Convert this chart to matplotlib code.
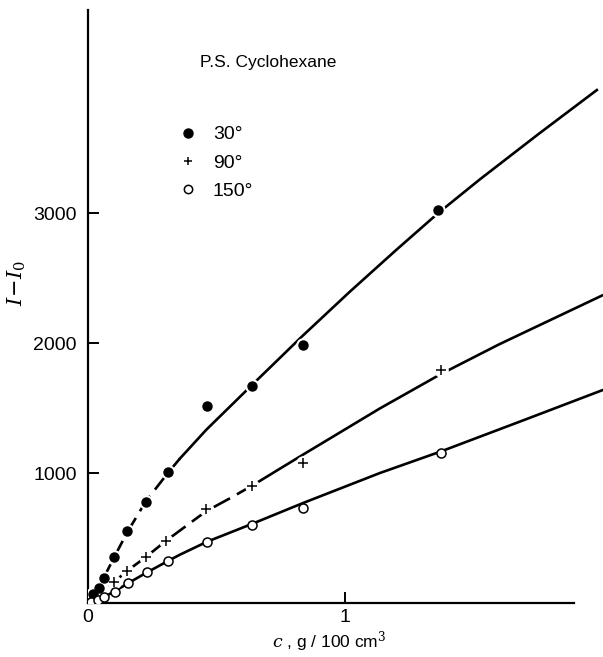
import matplotlib.pyplot as plt
from matplotlib.lines import Line2D

plt.rcParams['font.family'] = ['Liberation Sans', 'DejaVu Sans']
plt.rcParams['mathtext.fontset'] = 'dejavuserif'

# measured points (c in g/100cm3, I - I0)
c30 = [0.018, 0.042, 0.061, 0.101, 0.153, 0.226, 0.312, 0.462, 0.637, 0.835, 1.363]
i30 = [67, 118, 195, 351, 554, 779, 1005, 1518, 1669, 1982, 3023]
c90 = [0.102, 0.153, 0.226, 0.305, 0.458, 0.638, 0.835, 1.372]
i90 = [160, 250, 352, 478, 720, 898, 1074, 1792]
c150 = [0.01, 0.040, 0.061, 0.104, 0.154, 0.229, 0.313, 0.462, 0.640, 0.838, 1.372]
i150 = [10, 22, 47, 87, 151, 235, 324, 472, 600, 733, 1156]

# fitted curves as drawn in the figure
fit30_c = [0, 0.05, 0.1, 0.153, 0.226, 0.312, 0.358, 0.46, 0.637, 0.835, 1.019, 1.2, 1.363, 1.525, 1.75, 1.98]
fit30_i = [0, 150, 345, 545, 785, 1003, 1112, 1332, 1675, 2055, 2395, 2717, 3000, 3259, 3603, 3946]
fit90_c = [0, 0.05, 0.102, 0.153, 0.226, 0.304, 0.38, 0.459, 0.55, 0.639, 0.73, 0.834, 1.136, 1.372, 1.6, 2.0]
fit90_i = [0, 80, 163, 248, 355, 479, 590, 705, 803, 903, 1013, 1138, 1497, 1760, 1990, 2365]
fit150_c = [0, 0.042, 0.104, 0.154, 0.229, 0.313, 0.358, 0.464, 0.64, 0.838, 1.136, 1.372, 1.7, 2.0]
fit150_i = [0, 25, 90, 150, 235, 325, 372, 472, 610, 770, 1000, 1165, 1410, 1636]

dash_end30 = 6   # index where the 30 deg curve turns solid
dash_end90 = 9

fig = plt.figure(figsize=(6.03, 6.57), dpi=100)
ax = fig.add_axes([88 / 603, 54 / 657, 515 / 603, 593 / 657])

lw = 1.9
dash = (0, (7, 3))
ax.plot(fit30_c[:dash_end30 + 1], fit30_i[:dash_end30 + 1], color='black', lw=lw, ls=dash)
ax.plot(fit30_c[dash_end30:], fit30_i[dash_end30:], color='black', lw=lw)
ax.plot(fit90_c[:dash_end90 + 1], fit90_i[:dash_end90 + 1], color='black', lw=lw, ls=dash)
ax.plot(fit90_c[dash_end90:], fit90_i[dash_end90:], color='black', lw=lw)
ax.plot(fit150_c, fit150_i, color='black', lw=lw)

# white halo so the lines break around the points
for cc, ii in [(c30, i30), (c90, i90)]:
    ax.plot(cc, ii, 'o', color='white', ms=9.5, zorder=3)

ax.plot(c30, i30, 'o', color='black', ms=6.5, zorder=4)
ax.plot(c90, i90, '+', color='black', ms=7, mew=1.1, zorder=4)
ax.plot(c150, i150, 'o', mfc='white', mec='black', ms=6.5, mew=1.1, zorder=4)

ax.set_xlim(0, 515 / 257)
ax.set_ylim(0, 593 / 130 * 1000)

for s in ['top', 'right']:
    ax.spines[s].set_visible(False)
ax.spines['left'].set_linewidth(1.6)
ax.spines['bottom'].set_linewidth(1.6)
ax.spines['bottom'].set_bounds(0, 1.89)

ax.set_xticks([0, 1])
ax.set_xticklabels(['0', '1'])
ax.set_yticks([1000, 2000, 3000])
ax.tick_params(direction='in', length=8, width=1.4, labelsize=14, pad=8)
ax.tick_params(axis='x', pad=4)

ax.set_xlabel(r'$c$ , g / 100 cm$^3$', fontsize=12.5, va='center')
ax.xaxis.set_label_coords((329 - 88) / 515, (603 - 642) / 593)
ax.set_ylabel(r'$I\!-\!I_0$', fontsize=15, va='center')
ax.yaxis.set_label_coords((17 - 88) / 515, (603 - 283) / 593)

ax.text(200 / 603, 1 - 62 / 657, 'P.S. Cyclohexane', transform=fig.transFigure,
        fontsize=12.5, va='center', ha='left')

handles = [
    Line2D([], [], ls='none', marker='o', color='black', ms=6.5),
    Line2D([], [], ls='none', marker='+', color='black', ms=6, mew=1.1),
    Line2D([], [], ls='none', marker='o', mfc='white', mec='black', ms=6, mew=1.1),
]
ax.legend(handles, ['30°', '90°', '150°'], loc='upper left',
          bbox_to_anchor=(170 / 603, 1 - 116 / 657), bbox_transform=fig.transFigure,
          frameon=False, fontsize=14, handlelength=0.8, handletextpad=0.9,
          labelspacing=0.55, borderpad=0)

fig.savefig('out.png', dpi=100)
